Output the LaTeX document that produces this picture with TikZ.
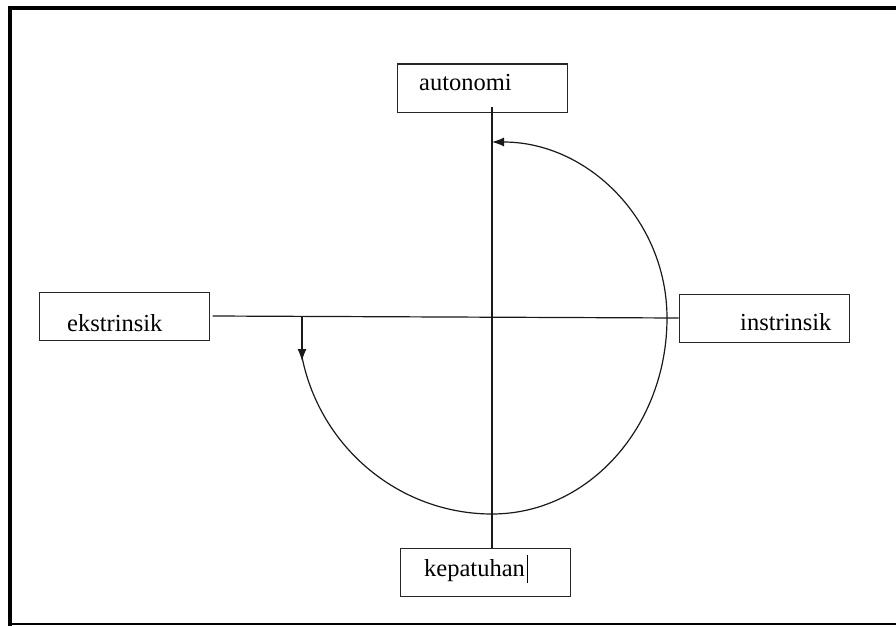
\documentclass[tikz,border=0pt]{standalone}
\usepackage{fontspec}
\setmainfont{Liberation Serif}
\usetikzlibrary{arrows.meta}
\begin{document}
\begin{tikzpicture}[x=1pt,y=-1pt,
  box/.style={draw=black!85,line width=1pt,minimum width=170pt,minimum height=48pt,inner sep=0pt},
  lbl/.style={anchor=base west,inner sep=0pt,font=\rmfamily\fontsize{24.5}{28}\selectfont},
  conn/.style={draw=black!90,line width=1.2pt},
  tip/.style={-{Latex[length=12pt,width=9pt]}}]
\useasboundingbox (0,0) rectangle (896,626);
% frame
\draw[line width=4pt] (10,6) -- (10,626);
\draw[line width=4pt] (8,8) -- (896,8);
\draw[line width=1.5pt] (10,624) -- (896,624);
% boxes
\node[box] (auto) at (482,88) {};
\node[box] (eks) at (124,316) {};
\node[box] (ins) at (764,318) {};
\node[box] (kep) at (485,572) {};
% labels
\node[lbl] (tauto) at (419,90) {autonomi};
\node[lbl] (teks) at (67,331) {ekstrinsik};
\node[lbl] (tins) at (740,330) {instrinsik};
\node[lbl] (tkep) at (424,576) {kepatuhan};
\draw[line width=1pt] ([xshift=2pt]tkep.base east) ++(0,-21) -- ++(0,28);
% axes
\coordinate (vtop) at (492,107);
\draw[conn] (vtop) -- (kep.north -| vtop);
\draw[conn] ([xshift=3pt]eks.east) -- (ins.west);
% arcs
\coordinate (bot) at (492,514);
\coordinate (rgt) at (667,318);
\coordinate (top) at (492,142);
\coordinate (lft) at (302,357);
\coordinate (hl) at (302,317);
\draw[conn,tip] (hl) -- (302,361);
\draw[conn] (lft) .. controls (320.3,448) and (399.8,514) .. (bot);
\draw[conn] (bot) .. controls (588.7,514) and (667,426.3) .. (rgt);
\draw[conn,tip] (rgt) .. controls (667,220.8) and (588.7,142) .. (top);
\end{tikzpicture}
\end{document}
